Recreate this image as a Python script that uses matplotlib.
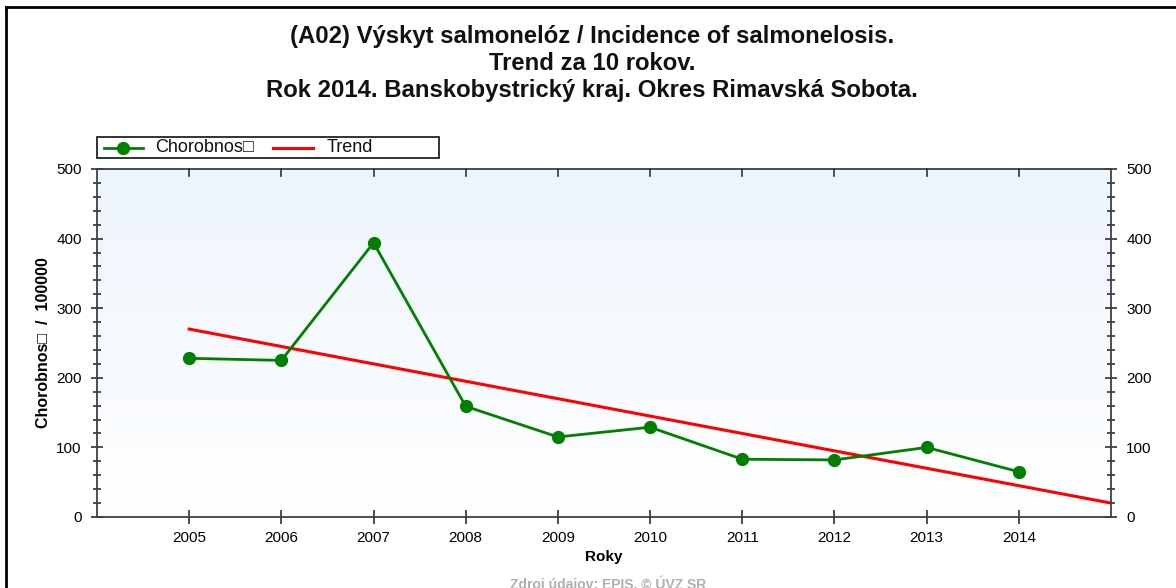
import matplotlib
matplotlib.use("Agg")
import matplotlib.pyplot as plt
import numpy as np
from matplotlib.lines import Line2D
from matplotlib.patches import Rectangle
from matplotlib.ticker import MultipleLocator

plt.rcParams['font.family'] = ['Liberation Sans', 'DejaVu Sans']

# data
years = [2005, 2006, 2007, 2008, 2009, 2010, 2011, 2012, 2013, 2014]
incidence = [228, 225, 394, 159, 115, 129, 83, 82, 100, 65]
trend_years = [2005, 2015]
trend_values = [270, 20]

title_lines = ["(A02) Výskyt salmonelóz / Incidence of salmonelosis.",
               "Trend za 10 rokov.",
               "Rok 2014. Banskobystrický kraj. Okres Rimavská Sobota."]

W, H = 1176, 588
fig = plt.figure(figsize=(W / 100, H / 100), dpi=100)
ax = fig.add_axes([97 / W, 1 - 517 / H, (1111 - 97) / W, (517 - 169) / H])

# light blue -> white background gradient
grad = np.linspace(1, 0, 256).reshape(-1, 1, 1)
top = np.array([0.93, 0.96, 0.99])
img = top * grad + (1 - grad)
ax.imshow(img, extent=[0, 1, 0, 1], transform=ax.transAxes, aspect='auto', zorder=0)

ax.plot(trend_years, trend_values, color='#ff0000', lw=2.2, zorder=2)
ax.plot(years, incidence, color='#007f00', lw=2, marker='o', markersize=8.5, zorder=3)

ax.set_xlim(2004, 2015)
ax.set_ylim(0, 500)
ax.set_xticks(years)
ax.set_xticklabels([str(y) for y in years])
ax.yaxis.set_major_locator(MultipleLocator(100))
ax.yaxis.set_minor_locator(MultipleLocator(20))

for s in ax.spines.values():
    s.set_color('#404040')
    s.set_linewidth(1.3)

ax.tick_params(axis='y', which='major', direction='inout', length=8, width=1.2,
               left=True, right=True, labelleft=True, labelright=True,
               labelsize=11, pad=7, color='#303030')
ax.tick_params(axis='y', which='minor', direction='inout', length=6, width=1.2,
               left=True, right=True, color='#303030')
ax.tick_params(axis='x', which='major', direction='inout', length=10, width=1.2,
               bottom=True, top=False, labelsize=11, pad=5, color='#303030')
for y in years:
    ax.plot([y, y], [500, 490], color='#303030', lw=1.2, clip_on=False, zorder=4)

ax.set_xlabel('Roky', fontsize=11, fontweight='bold', labelpad=4)
ax.set_ylabel('Chorobnos□  /  100000', fontsize=11.5, fontweight='bold', labelpad=4)

for i, line in enumerate(title_lines):
    fig.text(0.5 + 4 / W, 1 - (37 + 27 * i) / H, line, ha='center', va='center',
             fontsize=17.2, fontweight='bold', color='#111111')
fig.text(0.5 + 20 / W, 1 - 576 / H, 'Zdroj údajov: EPIS, © ÚVZ SR', ha='center', va='top',
         fontsize=10, fontweight='bold', color='#b0b0b0')

# legend box drawn in figure pixels
fig.add_artist(Rectangle((97 / W, 1 - 158 / H), (439 - 97) / W, 21 / H, transform=fig.transFigure,
                         facecolor='white', edgecolor='#111111', lw=1.2))
ly = 1 - 147.5 / H
fig.add_artist(Line2D([104 / W, 143 / W], [ly, ly], color='#007f00', lw=2, transform=fig.transFigure))
fig.add_artist(Line2D([123 / W], [ly], color='#007f00', marker='o', markersize=8.5,
                      transform=fig.transFigure))
fig.text(155 / W, ly, 'Chorobnos□', ha='left', va='center', fontsize=13, color='#111111')
fig.add_artist(Line2D([273 / W, 313 / W], [ly, ly], color='#ff0000', lw=2.2, transform=fig.transFigure))
fig.text(327 / W, ly, 'Trend', ha='left', va='center', fontsize=13, color='#111111')

# outer frame (top and left edges)
fig.add_artist(Line2D([6 / W, 6 / W], [0, 1 - 7 / H], color='black', lw=2, transform=fig.transFigure))
fig.add_artist(Line2D([6 / W, 1], [1 - 7 / H, 1 - 7 / H], color='black', lw=2, transform=fig.transFigure))

fig.savefig('out.png', dpi=100)
